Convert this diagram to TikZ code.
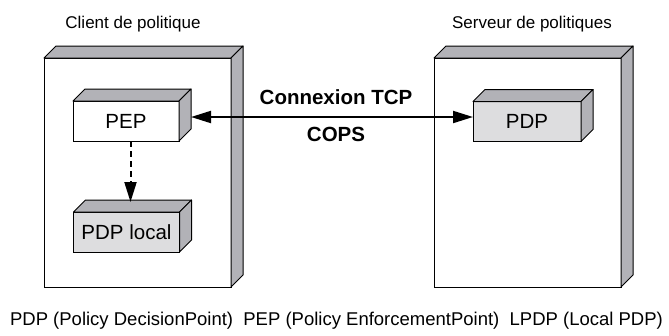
\documentclass[tikz,border=0pt]{standalone}
\usepackage{fontspec}
\setmainfont{Liberation Sans}
\usetikzlibrary{arrows.meta, calc, positioning}

\definecolor{facegray}{RGB}{178,178,183}
\definecolor{pdpgray}{RGB}{221,221,223}

% top and side faces of a box node (#1 = node, #2 = depth)
\newcommand{\boxfaces}[2]{%
	\draw[face] (#1.north west) -- ++(#2,-#2) -- ($(#1.north east)+(#2,-#2)$) -- (#1.north east) -- cycle;
	\draw[face] (#1.north east) -- ++(#2,-#2) -- ($(#1.south east)+(#2,-#2)$) -- (#1.south east) -- cycle;
}

\begin{document}
\begin{tikzpicture}[x=1pt, y=-1pt,
	face/.style={line width=1pt, fill=facegray, line join=round},
	hostbox/.style={draw, line width=1pt, fill=white, outer sep=0pt, minimum width=187pt, minimum height=229pt},
	unitbox/.style={draw, line width=1pt, outer sep=0pt, inner sep=0pt, minimum width=106pt, minimum height=40pt, font=\fontsize{20.5}{24}\selectfont},
	title/.style={font=\fontsize{17}{20}\selectfont, anchor=base},
	link/.style={line width=2pt, {Triangle[length=20pt, width=12pt]}-{Triangle[length=20pt, width=12pt]}},
	request/.style={line width=2pt, dash pattern=on 6pt off 4pt, -{Triangle[length=20pt, width=12pt]}}]
	
	\useasboundingbox (0,0) rectangle (669,335);
	
	% -------------------------------------------------------------------------
	% 1. Parametres
	% -------------------------------------------------------------------------
	\def\D{12}    % profondeur des boites
	
	% -------------------------------------------------------------------------
	% 2. Client et serveur
	% -------------------------------------------------------------------------
	\node[hostbox] (client) at (137.5,172.5) {};
	\boxfaces{client}{\D}
	\node[title] (clienttitle) at ($(client.north)+(-4.5,-30)$) {Client de politique};
	
	\node[hostbox] (server) at (527.5,172.5) {};
	\boxfaces{server}{\D}
	\node[title] (servertitle) at ($(server.north)+(4.5,-30)$) {Serveur de politiques};
	
	% -------------------------------------------------------------------------
	% 3. PEP, PDP local, PDP
	% -------------------------------------------------------------------------
	\node[unitbox, fill=white] (pep) at (126,121) {PEP};
	\boxfaces{pep}{\D}
	
	\node[unitbox, fill=pdpgray] (pdplocal) at (126.5,232) {PDP local};
	\boxfaces{pdplocal}{\D}
	
	\node[unitbox, fill=pdpgray, minimum width=108pt] (pdp) at (527,121.5) {PDP};
	\boxfaces{pdp}{\D}
	
	% -------------------------------------------------------------------------
	% 4. Liaisons
	% -------------------------------------------------------------------------
	\coordinate (pepside) at ($(pep.east)+(\D,-4)$);
	\draw[link] (pepside) -- (pepside -| pdp.west)
		node[midway, above=8pt, xshift=4pt, font=\bfseries\fontsize{20.5}{24}\selectfont] (tcp) {Connexion TCP}
		node[midway, below=6pt, xshift=4pt, font=\bfseries\fontsize{20.5}{24}\selectfont] (cops) {COPS};
	
	\coordinate (pltop) at ($(pdplocal.north)+(4,-10)$);
	\draw[request] (pep.south -| pltop) -- (pltop);
	
	% -------------------------------------------------------------------------
	% 5. Legende
	% -------------------------------------------------------------------------
	\node[font=\fontsize{18.5}{22}\selectfont, anchor=base] (legend) at (336.5,325)
		{PDP (Policy DecisionPoint)\ \ PEP (Policy EnforcementPoint)\ \ LPDP (Local PDP)};
	
\end{tikzpicture}
\end{document}
